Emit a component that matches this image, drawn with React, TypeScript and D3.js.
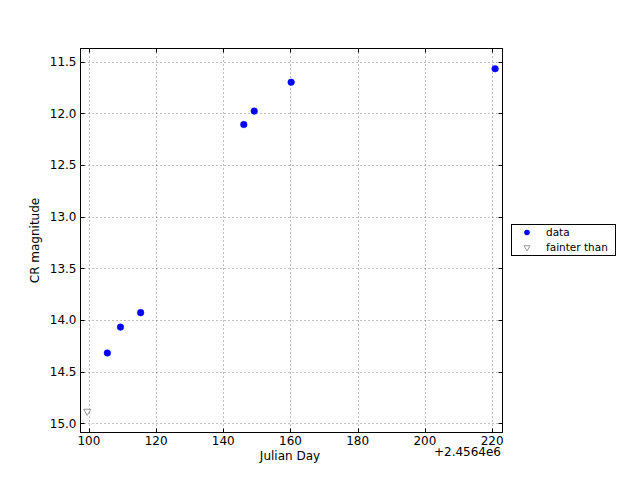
import React from "react";
import * as d3 from "d3";

const dataJD = [105.5, 109.4, 115.4, 146.1, 149.2, 160.2, 220.9];
const dataMag = [14.32, 14.07, 13.93, 12.11, 11.98, 11.70, 11.57];
const limitJD = [99.5];
const limitMag = [14.885];
const xTicks = [100, 120, 140, 160, 180, 200, 220];
const yTicks = [11.5, 12.0, 12.5, 13.0, 13.5, 14.0, 14.5, 15.0];
const legendLabels = ["data", "fainter than"];

const W = 640, H = 480;
const L = 80.5, R = 502.5, T = 48.5, B = 432.5;
const font = "DejaVu Sans, sans-serif";

export default function App() {
  const x = d3.scaleLinear().domain([97.5, 223.1]).range([L, R]);
  const y = d3.scaleLinear().domain([11.374, 15.09]).range([T, B]);
  const tri = d3.symbol().type(d3.symbolTriangle).size(22);
  return (
    <svg width={W} height={H} style={{ position: "absolute", left: 0, top: 0 }} fontFamily={font}>
      <rect x={0} y={0} width={W} height={H} fill="#fff" />
      {xTicks.map((t) => (
        <g key={"x" + t}>
          <line x1={Math.round(x(t)) + 0.5} x2={Math.round(x(t)) + 0.5} y1={T} y2={B} stroke="#000" strokeWidth={0.5} strokeDasharray="1,3" />
          <line x1={Math.round(x(t)) + 0.5} x2={Math.round(x(t)) + 0.5} y1={B} y2={B - 4} stroke="#000" />
          <line x1={Math.round(x(t)) + 0.5} x2={Math.round(x(t)) + 0.5} y1={T} y2={T + 4} stroke="#000" />
          <text x={x(t)} y={B + 12.5} fontSize={12} textAnchor="middle">{t}</text>
        </g>
      ))}
      {yTicks.map((t) => (
        <g key={"y" + t}>
          <line x1={L} x2={R} y1={Math.round(y(t)) + 0.5} y2={Math.round(y(t)) + 0.5} stroke="#000" strokeWidth={0.5} strokeDasharray="1,3" />
          <line x1={L} x2={L + 4} y1={Math.round(y(t)) + 0.5} y2={Math.round(y(t)) + 0.5} stroke="#000" />
          <line x1={R} x2={R - 4} y1={Math.round(y(t)) + 0.5} y2={Math.round(y(t)) + 0.5} stroke="#000" />
          <text x={L - 4} y={y(t) + 4.5} fontSize={12} textAnchor="end">{t.toFixed(1)}</text>
        </g>
      ))}
      <rect x={L} y={T} width={R - L} height={B - T} fill="none" stroke="#000" strokeWidth={1} />
      {dataJD.map((d, i) => (
        <circle key={"d" + i} cx={x(d)} cy={y(dataMag[i])} r={3.3} fill="#0000ff" stroke="#0000ff" strokeWidth={0.5} />
      ))}
      {limitJD.map((d, i) => (
        <path key={"l" + i} d={tri() as string} transform={`translate(${x(d)},${y(limitMag[i])}) rotate(180)`} fill="#fff" stroke="#808080" strokeWidth={0.8} />
      ))}
      <text x={501} y={456} fontSize={12} textAnchor="end">+2.4564e6</text>
      <text x={290} y={460} fontSize={12} textAnchor="middle">Julian Day</text>
      <text transform={`translate(39,${(T + B) / 2}) rotate(-90)`} fontSize={12} textAnchor="middle">CR magnitude</text>
      <g>
        <rect x={511.5} y={224.5} width={104} height={31} fill="#fff" stroke="#000" strokeWidth={1} />
        <circle cx={527} cy={232.5} r={2.8} fill="#0000ff" />
        <path d={d3.symbol().type(d3.symbolTriangle).size(16)() as string} transform="translate(527,247.5) rotate(180)" fill="#fff" stroke="#808080" strokeWidth={0.8} />
        <text x={546} y={236} fontSize={10.5}>{legendLabels[0]}</text>
        <text x={546} y={251} fontSize={10.5}>{legendLabels[1]}</text>
      </g>
    </svg>
  );
}
